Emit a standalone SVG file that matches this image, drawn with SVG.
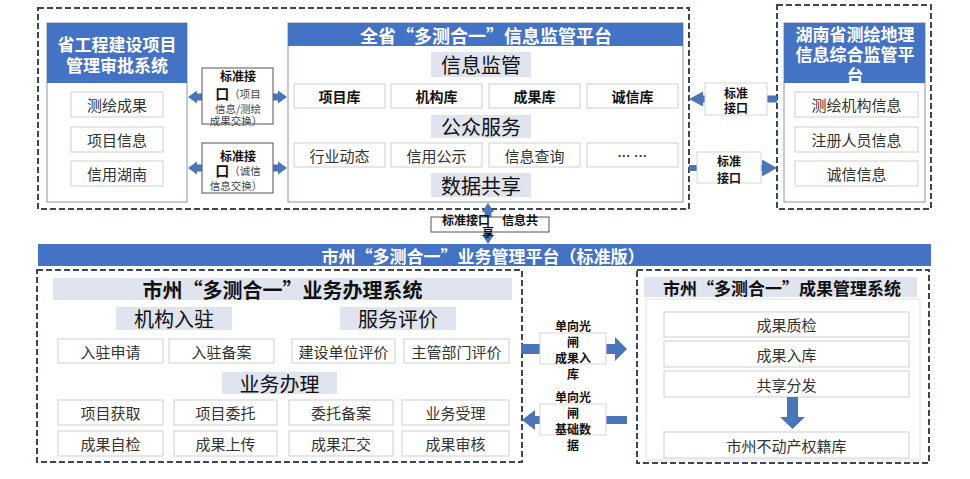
<svg xmlns="http://www.w3.org/2000/svg" width="970" height="479" viewBox="0 0 970 479">
<style>
text{font-family:"Noto Sans CJK SC","Noto Sans",sans-serif;dominant-baseline:central;text-anchor:middle}
.blue{fill:#4472C4}
.hdr{fill:#fff;font-weight:bold}
.panel{fill:#fff;stroke:#8796b0;stroke-width:1}
.item{fill:#fff;stroke:#cfcfcf;stroke-width:1}
.lbl{fill:#dfe4ef}
.dash{fill:none;stroke:#3d4655;stroke-width:2;stroke-dasharray:6 3}
.arr{fill:#4a75b9}
.ibox{fill:#fff;stroke:#555;stroke-width:1}
.lbox{fill:#fff;stroke:#d6d6d6;stroke-width:1}
.t15{font-size:15px;fill:#333}
.t14b{font-size:14px;font-weight:bold;fill:#111}
.sec{font-size:20px;fill:#111}
.small{font-size:10.5px;fill:#444}
.cb{font-size:12px;font-weight:bold;fill:#111}
</style>
<rect width="970" height="479" fill="#fff"/>

<!-- dashed containers -->
<rect class="dash" x="38" y="8" width="651" height="201"/>
<rect class="dash" x="777" y="5" width="154" height="204"/>
<rect class="dash" x="37" y="270" width="485" height="192"/>
<rect class="dash" x="637" y="270" width="292" height="193"/>

<!-- left panel -->
<g id="provincial-approval">
<rect class="panel" x="47" y="23" width="140" height="179"/>
<rect class="blue" x="47" y="23" width="140" height="60"/>
<text class="hdr" x="117" y="43" font-size="17">省工程建设项目</text>
<text class="hdr" x="117" y="64" font-size="17">管理审批系统</text>
<rect class="item" x="71" y="92" width="92" height="25"/>
<text class="t15" x="117" y="104.5">测绘成果</text>
<rect class="item" x="71" y="127" width="92" height="25"/>
<text class="t15" x="117" y="139.5">项目信息</text>
<rect class="item" x="71" y="161" width="92" height="25"/>
<text class="t15" x="117" y="173.5">信用湖南</text>
</g>

<!-- center panel -->
<g id="provincial-platform">
<rect class="panel" x="288" y="23" width="395" height="179"/>
<rect class="blue" x="288" y="23" width="395" height="23"/>
<text class="hdr" x="486" y="35" font-size="18">全省“多测合一”信息监管平台</text>
<rect class="lbl" x="431" y="52" width="100" height="25"/>
<text class="sec" x="481" y="64.5">信息监管</text>
<rect class="item" x="294" y="84" width="91" height="24"/>
<text class="t14b" x="339.5" y="96">项目库</text>
<rect class="item" x="391" y="84" width="91" height="24"/>
<text class="t14b" x="436.5" y="96">机构库</text>
<rect class="item" x="489" y="84" width="91" height="24"/>
<text class="t14b" x="534.5" y="96">成果库</text>
<rect class="item" x="587" y="84" width="91" height="24"/>
<text class="t14b" x="632.5" y="96">诚信库</text>
<rect class="lbl" x="431" y="115" width="100" height="23"/>
<text class="sec" x="481" y="126.5">公众服务</text>
<rect class="item" x="294" y="143" width="91" height="24"/>
<text class="t15" x="339.5" y="155" fill="#444">行业动态</text>
<rect class="item" x="391" y="143" width="91" height="24"/>
<text class="t15" x="436.5" y="155">信用公示</text>
<rect class="item" x="489" y="143" width="91" height="24"/>
<text class="t15" x="534.5" y="155">信息查询</text>
<rect class="item" x="587" y="143" width="91" height="24"/>
<text x="632.5" y="155" font-size="13" font-weight="bold" fill="#333" style="font-family:'Liberation Sans',sans-serif">··· ···</text>
<rect class="lbl" x="431" y="173" width="100" height="24"/>
<text class="sec" x="481" y="185">数据共享</text>
</g>

<!-- right panel -->
<g id="hunan-platform">
<rect class="panel" x="784" y="23" width="141" height="179"/>
<rect class="blue" x="784" y="23" width="141" height="60"/>
<text class="hdr" x="855" y="33" font-size="17">湖南省测绘地理</text>
<text class="hdr" x="855" y="53" font-size="17">信息综合监管平</text>
<text class="hdr" x="855" y="74" font-size="17">台</text>
<rect class="item" x="795" y="92" width="123" height="25"/>
<text class="t15" x="856.5" y="104.5">测绘机构信息</text>
<rect class="item" x="795" y="127" width="123" height="25"/>
<text class="t15" x="856.5" y="139.5">注册人员信息</text>
<rect class="item" x="795" y="161" width="123" height="25"/>
<text class="t15" x="856.5" y="173.5">诚信信息</text>
</g>

<!-- city platform bar -->
<g id="city-platform">
<rect class="blue" x="38" y="244" width="893" height="22"/>
<text class="hdr" x="483" y="255" font-size="17">市州“多测合一”业务管理平台（标准版）</text>
</g>

<!-- bottom left system -->
<g id="city-business-system">
<rect class="lbl" x="53" y="278" width="459" height="22" fill="#e3e7ef"/>
<text x="282.5" y="289" font-size="20" font-weight="bold" fill="#111">市州“多测合一”业务办理系统</text>
<rect class="lbl" x="116" y="307" width="116" height="23"/>
<text class="sec" x="174" y="318.5">机构入驻</text>
<rect class="lbl" x="340" y="307" width="116" height="23"/>
<text class="sec" x="398" y="318.5">服务评价</text>
<rect class="item" x="58" y="339" width="105" height="24"/>
<text class="t15" x="110.5" y="351" font-size="16">入驻申请</text>
<rect class="item" x="169" y="339" width="105" height="24"/>
<text class="t15" x="221.5" y="351" font-size="16">入驻备案</text>
<rect class="item" x="292" y="339" width="103" height="24"/>
<text class="t15" x="343.5" y="351" font-size="13">建设单位评价</text>
<rect class="item" x="404" y="339" width="105" height="24"/>
<text class="t15" x="456.5" y="351" font-size="13">主管部门评价</text>
<rect class="lbl" x="222" y="372" width="115" height="22"/>
<text class="sec" x="279.5" y="383">业务办理</text>
<rect class="item" x="58" y="400" width="105" height="25"/>
<text class="t15" x="110.5" y="412.5" font-size="16">项目获取</text>
<rect class="item" x="174" y="400" width="103" height="25"/>
<text class="t15" x="225.5" y="412.5" font-size="16">项目委托</text>
<rect class="item" x="289" y="400" width="104" height="25"/>
<text class="t15" x="341" y="412.5" font-size="16">委托备案</text>
<rect class="item" x="402" y="400" width="107" height="25"/>
<text class="t15" x="455.5" y="412.5" font-size="16">业务受理</text>
<rect class="item" x="58" y="431" width="105" height="25"/>
<text class="t15" x="110.5" y="443.5" font-size="16">成果自检</text>
<rect class="item" x="174" y="431" width="103" height="25"/>
<text class="t15" x="225.5" y="443.5" font-size="16">成果上传</text>
<rect class="item" x="289" y="431" width="104" height="25"/>
<text class="t15" x="341" y="443.5" font-size="16">成果汇交</text>
<rect class="item" x="402" y="431" width="107" height="25"/>
<text class="t15" x="455.5" y="443.5" font-size="16">成果审核</text>
</g>

<!-- bottom right system -->
<g id="city-result-system">
<rect class="lbl" x="644" y="277" width="273" height="20" fill="#e3e7ef"/>
<text x="782" y="287" font-size="17" font-weight="bold" fill="#111">市州“多测合一”成果管理系统</text>
<rect x="646" y="299" width="274" height="161" fill="#fff" stroke="#e2e2e2"/>
<rect class="item" x="664" y="312" width="245" height="25"/>
<text class="t15" x="786.5" y="324.5" font-size="16">成果质检</text>
<rect class="item" x="664" y="341" width="245" height="26"/>
<text class="t15" x="786.5" y="354" font-size="16">成果入库</text>
<rect class="item" x="664" y="371" width="245" height="26"/>
<text class="t15" x="786.5" y="384" font-size="16">共享分发</text>
<polygon class="arr" points="787,397 798,397 798,417 805,417 792.5,429 780,417 787,417"/>
<rect class="item" x="664" y="432" width="245" height="26"/>
<text class="t15" x="786.5" y="445" font-size="16">市州不动产权籍库</text>
</g>

<!-- connectors -->
<g id="connectors">
<polygon class="arr" points="188,97 197,90.5 197,93.5 278,93.5 278,90.5 287,97 278,103.5 278,100.5 197,100.5 197,103.5"/>
<polygon class="arr" points="188,168 197,161.5 197,164.5 278,164.5 278,161.5 287,168 278,174.5 278,171.5 197,171.5 197,174.5"/>
<polygon class="arr" points="689,99 703,91.5 703,95.5 777,95.5 777,102.5 703,102.5 703,106.5"/>
<polygon class="arr" points="689,165 762,165 762,159.5 777,168 762,176.5 762,171 689,171"/>
<polygon class="arr" points="488,203 494,212 491.5,212 491.5,235 494,235 488,244 482,235 484.5,235 484.5,212 482,212"/>
<polygon class="arr" points="521,344 615,344 615,337 627,349 615,361 615,354 521,354"/>
<polygon class="arr" points="522,420 535,410 535,416 627,416 627,424 535,424 535,430"/>

<rect class="ibox" x="202" y="68" width="71" height="56"/>
<text class="cb" x="238" y="75" font-size="14">标准接</text>
<text x="238" y="93"><tspan font-size="14" font-weight="bold" fill="#111">口</tspan><tspan class="small">（项目</tspan></text>
<text class="small" x="238" y="108">信息/测绘</text>
<text class="small" x="236" y="120">成果交换）</text>

<rect class="ibox" x="202" y="143" width="71" height="50"/>
<text class="cb" x="238" y="155" font-size="14">标准接</text>
<text x="238" y="170"><tspan font-size="14" font-weight="bold" fill="#111">口</tspan><tspan class="small">（诚信</tspan></text>
<text class="small" x="236" y="185">信息交换）</text>

<rect class="lbox" x="705" y="83" width="62" height="32"/>
<text class="cb" x="736" y="92" font-size="13">标准</text>
<text class="cb" x="736" y="107" font-size="13">接口</text>
<rect class="lbox" x="697" y="152" width="64" height="31"/>
<text class="cb" x="729" y="160" font-size="13">标准</text>
<text class="cb" x="729" y="177" font-size="13">接口</text>

<rect class="ibox" x="431" y="217" width="118" height="15"/>
<text class="cb" x="490" y="219" font-size="10.5">标准接口　信息共</text>
<text class="cb" x="488" y="231" font-size="10.5">享</text>

<rect class="lbox" x="540" y="333" width="66" height="31"/>
<text class="cb" x="573" y="325">单向光</text>
<text class="cb" x="573" y="341">闸</text>
<text class="cb" x="573" y="357">成果入</text>
<text class="cb" x="573" y="373">库</text>
<rect class="lbox" x="540" y="404" width="66" height="31"/>
<text class="cb" x="573" y="396">单向光</text>
<text class="cb" x="573" y="412">闸</text>
<text class="cb" x="573" y="428">基础数</text>
<text class="cb" x="573" y="444">据</text>
</g>
</svg>
